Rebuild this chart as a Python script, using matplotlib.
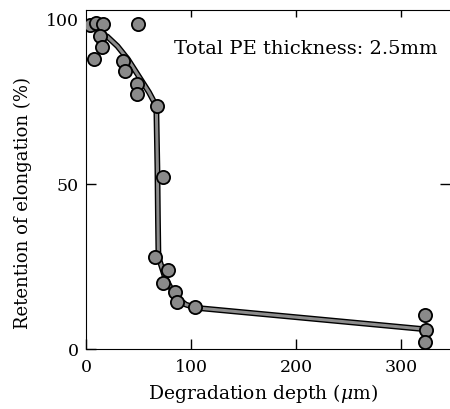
import matplotlib
matplotlib.use("Agg")
import matplotlib.pyplot as plt

plt.rcParams['font.family'] = ['DejaVu Serif']
plt.rcParams['mathtext.fontset'] = 'dejavuserif'

# scatter data (degradation depth um, retention %)
pts_x = [4, 10, 16, 7.6, 13, 15, 50, 35, 37, 48.5, 48.5, 67.6, 73,
         66, 78, 73, 85, 86.7, 104, 323, 324, 323]
pts_y = [98.5, 99, 98.8, 88, 95, 91.8, 98.8, 87.5, 84.5, 80.5, 77.4, 73.8, 52.4,
         28, 24, 20, 17.4, 14.3, 12.8, 10.4, 5.8, 2.1]

# fitted curve
curve_x = [20, 30, 40, 50, 60, 65, 67, 68, 68.5, 69, 75, 85, 95, 105, 323]
curve_y = [95, 92, 88, 83, 78, 75, 73, 55, 40, 28, 22, 16, 13.5, 12.5, 6]

x_ticks = [0, 100, 200, 300]
y_ticks = [0, 50, 100]

fig = plt.figure(figsize=(4.5, 4.09), dpi=100)
ax = fig.add_axes([86/450, 60/409, (450-86)/450, (349-10)/409])

ax.plot(curve_x, curve_y, color='black', lw=4.2, solid_capstyle='round', zorder=2)
ax.plot(curve_x, curve_y, color='#8c8c8c', lw=2.2, solid_capstyle='round', zorder=3)
ax.plot(pts_x, pts_y, 'o', ms=9.5, mfc='#8a8a8a', mec='black', mew=1.3, zorder=4)

ax.set_xlim(0, 346.7)
ax.set_ylim(0, 103.0)
ax.set_xticks(x_ticks)
ax.set_yticks(y_ticks)
ax.tick_params(direction='in', length=7, width=1, top=True, right=True,
               labelsize=12.5)
ax.tick_params(axis='x', pad=7)
ax.tick_params(axis='y', pad=5)
ax.spines['right'].set_visible(False)
for i, t in enumerate(ax.xaxis.get_major_ticks()):
    t.tick2line.set_markersize(5)
    if i == 0:
        t.tick2line.set_visible(False)
for i, t in enumerate(ax.yaxis.get_major_ticks()):
    if i != 1:
        t.tick2line.set_visible(False)

ax.set_xlabel(r'Degradation depth ($\mu$m)', fontsize=13.5)
ax.set_ylabel('Retention of elongation (%)', fontsize=13)
ax.xaxis.set_label_coords(0.486, -0.098)
ax.yaxis.set_label_coords(-0.148, 0.43)
ax.text(0.965, 0.885, 'Total PE thickness: 2.5mm', transform=ax.transAxes,
        ha='right', va='center', fontsize=14)

fig.savefig('out.png', dpi=100)
